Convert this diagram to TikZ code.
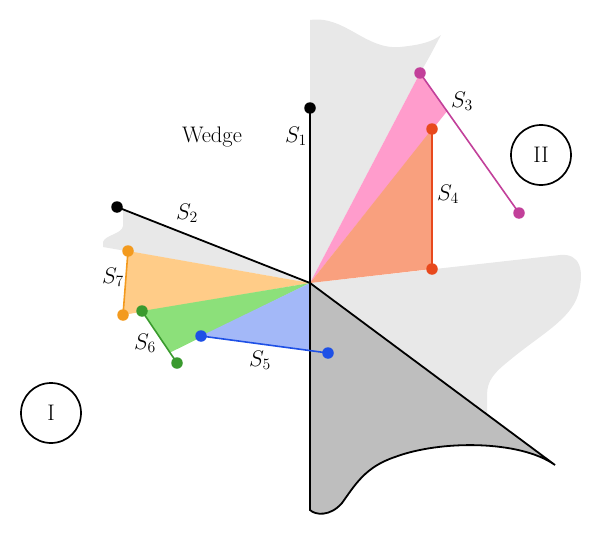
\RequirePackage{fix-cm}
\documentclass[tikz,border=0pt]{standalone}
\usetikzlibrary{calc}
\definecolor{lgray}{HTML}{E8E8E8}
\definecolor{dgray}{HTML}{BEBEBE}
\definecolor{pinkf}{HTML}{FF9CCC}
\definecolor{magl}{HTML}{C2409A}
\definecolor{salf}{HTML}{F9A07E}
\definecolor{redl}{HTML}{E8491D}
\definecolor{orf}{HTML}{FFCC88}
\definecolor{orl}{HTML}{F39A1E}
\definecolor{grf}{HTML}{8CE07A}
\definecolor{grl}{HTML}{3A9A2E}
\definecolor{blf}{HTML}{A3B8F8}
\definecolor{bll}{HTML}{1E50E6}
\tikzset{
  dotnode/.style={circle,fill=#1,inner sep=0pt,minimum size=11.5pt},
  seg/.style={draw=#1,line width=1.6pt},
  lbl/.style={font=\fontsize{22.5}{27}\selectfont,inner sep=0pt},
  region/.style={circle,draw=black,line width=1.7pt,minimum size=60pt,inner sep=0pt,font=\fontsize{22.5}{27}\selectfont}
}
\begin{document}
\begin{tikzpicture}[x=1pt,y=-1pt]
\useasboundingbox (0,0) rectangle (600,535);
\coordinate (O) at (310,283);
\coordinate (p1) at (310,108);
\coordinate (p2) at (117,207);
\coordinate (p3a) at (420,73);
\coordinate (p3b) at (519,213);
\coordinate (p4a) at (432,129);
\coordinate (p4b) at (432,269);
\coordinate (p5a) at (201,336);
\coordinate (p5b) at (328,353);
\coordinate (p6a) at (142,311);
\coordinate (p6b) at (177,363);
\coordinate (p7a) at (128,251);
\coordinate (p7b) at (123,315);
\coordinate (bot) at (310,510);
\coordinate (tip) at (555,465);
% light gray regions
\fill[lgray] (O) -- (310,20) .. controls (345,15) and (365,50) .. (400,47)
  .. controls (420,45) and (432,42) .. (441,35)
  .. controls (433,50) and (428,60) .. (p3a) -- cycle;
\fill[lgray] (O) -- (560,255) .. controls (580,253) and (585,270) .. (578,295)
  .. controls (570,320) and (540,335) .. (510,360)
  .. controls (495,372) and (487,380) .. (487,395) -- (487,414) -- cycle;
\fill[lgray] (O) -- (123,209.5) -- (123,226) .. controls (122,234) and (105,235) .. (103,242)
  -- (103,247) -- cycle;
% wedges
\fill[orf] (O) -- (p7a) -- (p7b) -- cycle;
\fill[grf] (O) -- (p6a) -- ($(p6a)!0.8!(p6b)$) -- cycle;
\fill[blf] (O) -- (p5a) -- ($(p5a)!0.858!(p5b)$) -- cycle;
\fill[pinkf] (O) -- (p3a) -- ($(p3a)!0.273!(p3b)$) -- cycle;
\fill[salf] (O) -- (p4a) -- (p4b) -- cycle;
% dark gray region
\filldraw[fill=dgray,draw=black,line width=1.8pt] (O) -- (tip)
  .. controls (520,440) and (440,440) .. (395,457)
  .. controls (365,467) and (355,485) .. (342,503)
  .. controls (330,517) and (315,515) .. (bot) -- cycle;
% black lines
\draw[line width=1.8pt] (p1) -- (O);
\draw[line width=1.8pt] (p2) -- (O);
% colored segments
\draw[seg=magl] (p3a) -- (p3b);
\draw[seg=redl] (p4a) -- (p4b);
\draw[seg=bll] (p5a) -- (p5b);
\draw[seg=grl] (p6a) -- (p6b);
\draw[seg=orl] (p7a) -- (p7b);
% dots
\node[dotnode=black] (d1) at (p1) {};
\node[dotnode=black] (d2) at (p2) {};
\node[dotnode=magl] (d3a) at (p3a) {};
\node[dotnode=magl] (d3b) at (p3b) {};
\node[dotnode=redl] (d4a) at (p4a) {};
\node[dotnode=redl] (d4b) at (p4b) {};
\node[dotnode=bll] (d5a) at (p5a) {};
\node[dotnode=bll] (d5b) at (p5b) {};
\node[dotnode=grl] (d6a) at (p6a) {};
\node[dotnode=grl] (d6b) at (p6b) {};
\node[dotnode=orl] (d7a) at (p7a) {};
\node[dotnode=orl] (d7b) at (p7b) {};
% labels
\node[lbl] (wedge) at (212,137) {Wedge};
\node[lbl] (s1) at (296,136) {$S_1$};
\node[lbl] (s2) at (187,213) {$S_2$};
\node[lbl] (s3) at (462,101) {$S_3$};
\node[lbl] (s4) at (448,194) {$S_4$};
\node[lbl] (s5) at (260,360) {$S_5$};
\node[lbl] (s6) at (145,343) {$S_6$};
\node[lbl] (s7) at (113,277) {$S_7$};
\node[region] (r1) at (51,413) {I};
\node[region] (r2) at (541,155) {II};
\end{tikzpicture}
\end{document}
